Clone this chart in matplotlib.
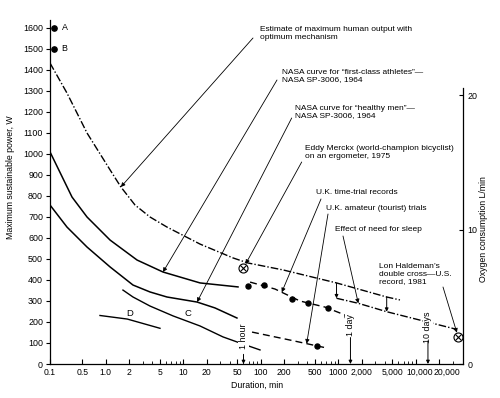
import numpy as np
import matplotlib
matplotlib.use('Agg')
import matplotlib.pyplot as plt
import matplotlib.transforms as mtransforms
from matplotlib.ticker import FixedLocator, FixedFormatter, NullFormatter

plt.rcParams['font.family'] = ['Liberation Sans', 'DejaVu Sans']

# ---------------- data (duration in minutes, power in W) ----------------
estimate_min = [0.1, 0.31, 0.574, 1.14, 1.57, 2.39, 3.73, 6.18, 16.5, 44, 68.6, 194, 952, 4227, 6270]
estimate_w = [1433, 1290, 1100, 924, 843, 757, 700, 652, 571, 505, 481, 448, 386, 319, 305]

sleep_min = [952, 1818, 4227, 6270, 33800]
sleep_w = [313, 289, 249, 233, 165]
step_min = [952, 4227]
step_top_w = [384, 319]
step_bot_w = [313, 249]

athletes_min = [0.1, 0.372, 0.574, 1.14, 2.54, 5.49, 16.5, 51]
athletes_w = [1010, 795, 700, 590, 495, 438, 386, 367]

healthy_min = [0.1, 0.31, 0.574, 1.14, 2.25, 3.73, 6.18, 15.1, 25.7, 49.4]
healthy_w = [757, 652, 557, 462, 376, 343, 319, 295, 267, 219]

c_min = [1.67, 2.25, 3.73, 7.39, 16.5, 32.6, 54, 98]
c_w = [352, 319, 276, 229, 181, 129, 100, 67]

d_min = [0.844, 1.9, 5.02]
d_w = [231, 214, 170]

trial_line_min = [73, 153, 321, 676, 1420]
trial_line_w = [390, 357, 300, 271, 224]
trial_dots_min = [68, 111, 251, 411, 745, 1300]
trial_dots_w = [373, 376, 308, 292, 269, 229]

amateur_line_min = [77.3, 239, 716]
amateur_line_w = [152, 114, 76]
amateur_dot_min = [528]
amateur_dot_w = [87]

merckx_min, merckx_w = 59.6, 456
haldeman_min, haldeman_w = 35460, 127

ab_min = [0.15, 0.15]
ab_w = [1600, 1500]
ab_labels = ['A', 'B']

time_marks_min = [60, 1440, 14400]
time_marks_labels = ['1 hour', '1 day', '10 days']

x_major = [0.1, 0.5, 1, 2, 5, 10, 20, 50, 100, 200, 500, 1000, 2000, 5000, 10000, 20000]
x_major_labels = ['0.1', '0.5', '1.0', '2', '5', '10', '20', '50', '100', '200', '500',
                  '1000', '2,000', '5,000', '10,000', '20,000']
y_ticks = list(range(0, 1601, 100))
o2_ticks = [0, 10, 20]

# ---------------- x scale: linear 0.1-0.5, log above ----------------
L0 = np.log10(0.5)
LL = -0.7187


def fwd(x):
    x = np.asarray(x, dtype=float)
    return np.where(x >= 0.5, np.log10(np.clip(x, 0.5, None)),
                    L0 - (0.5 - x) / 0.4 * (L0 - LL))


def inv(y):
    y = np.asarray(y, dtype=float)
    return np.where(y >= L0, 10 ** np.clip(y, None, 12),
                    0.5 - (L0 - y) / (L0 - LL) * 0.4)


W, H = 500, 398
fig = plt.figure(figsize=(W / 100, H / 100), dpi=100)
ax = fig.add_axes([50 / W, (H - 364) / H, (463 - 50) / W, (364 - 20) / H])
ax.set_xscale('function', functions=(fwd, inv))
ax.set_xlim(0.1, 40800)
ax.set_ylim(0, 1638)

for s in ['top', 'right']:
    ax.spines[s].set_visible(False)
for s in ['left', 'bottom']:
    ax.spines[s].set_linewidth(0.9)

ax.xaxis.set_major_locator(FixedLocator(x_major))
ax.xaxis.set_major_formatter(FixedFormatter(x_major_labels))
minors = [m * d for d in [1, 10, 100, 1000, 10000] for m in [3, 4, 6, 7, 8, 9] if m * d < 35000]
ax.xaxis.set_minor_locator(FixedLocator(minors))
ax.xaxis.set_minor_formatter(NullFormatter())
ax.set_yticks(y_ticks)
ax.tick_params(axis='x', which='major', direction='in', length=3.5, width=0.8, labelsize=6.2, pad=3)
ax.tick_params(axis='x', which='minor', direction='in', length=2.2, width=0.6)
ax.tick_params(axis='y', direction='out', length=3, width=0.8, labelsize=6.4, pad=2)

# nudge the two crowded right-hand tick labels apart, as in the original
xlabels = ax.xaxis.get_majorticklabels()
for lab, dx in zip(xlabels[-2:], [3.0, 6.0]):
    lab.set_transform(lab.get_transform() + mtransforms.ScaledTranslation(dx / 72, 0, fig.dpi_scale_trans))

ax2 = ax.twinx()
ax2.set_ylim(0, 25.58)
ax2.set_yticks(o2_ticks)
for s in ['top', 'left', 'bottom']:
    ax2.spines[s].set_visible(False)
ax2.spines['right'].set_bounds(0, 20.5)
ax2.spines['right'].set_linewidth(0.9)
ax2.tick_params(axis='y', direction='in', length=3, width=0.8, labelsize=6.4, pad=3)

K = 'black'
dashdot = (5.5, 1.5, 1, 1.5)

ax.plot(estimate_min, estimate_w, color=K, lw=1.0, dashes=dashdot)
ax.plot(sleep_min, sleep_w, color=K, lw=1.0, dashes=dashdot)
for x, t, b in zip(step_min, step_top_w, step_bot_w):
    ax.annotate('', xy=(x, b), xytext=(x, t),
                arrowprops=dict(arrowstyle='-|>', lw=0.7, color=K, shrinkA=0, shrinkB=0,
                                mutation_scale=5))

ax.plot(athletes_min, athletes_w, color=K, lw=1.1)
ax.plot(healthy_min, healthy_w, color=K, lw=1.1)
ax.plot(c_min, c_w, color=K, lw=1.0)
ax.plot(d_min, d_w, color=K, lw=1.0)

ax.plot(trial_line_min, trial_line_w, color=K, lw=1.0, dashes=(5, 3))
ax.plot(trial_dots_min, trial_dots_w, 'o', color=K, ms=3.6)
ax.plot(amateur_line_min, amateur_line_w, color=K, lw=1.0, dashes=(5, 3))
ax.plot(amateur_dot_min, amateur_dot_w, 'o', color=K, ms=3.6)

for x, w in [(merckx_min, merckx_w), (haldeman_min, haldeman_w)]:
    ax.plot([x], [w], marker='o', mfc='white', mec=K, ms=6.5, mew=0.8, ls='none', clip_on=False, zorder=5)
    ax.plot([x], [w], marker='x', color=K, ms=4.4, mew=0.8, ls='none', clip_on=False, zorder=6)

ax.plot(ab_min, ab_w, 'o', color=K, ms=3.8, clip_on=False)
for x, w, lab in zip(ab_min, ab_w, ab_labels):
    ax.annotate(lab, xy=(x, w), xytext=(5.5, 0), textcoords='offset points',
                va='center', ha='left', fontsize=6.4)

# time markers (1 hour, 1 day, 10 days)
mark_text_w = [133, 185, 176]
mark_arrow_top = [46, 126, 110]
for x, lab, tw, aw in zip(time_marks_min, time_marks_labels, mark_text_w, mark_arrow_top):
    ax.text(x, tw, lab, rotation=90, ha='center', va='center', fontsize=6.4,
            bbox=dict(fc='white', ec='none', pad=0.6), zorder=7)
    ax.annotate('', xy=(x, 0), xytext=(x, aw),
                arrowprops=dict(arrowstyle='-|>', lw=0.7, color=K, shrinkA=0, shrinkB=0,
                                mutation_scale=5), zorder=7)


def on_curve(xs, ws, x):
    return float(np.interp(np.log10(x), np.log10(xs), ws))


def fp(px, py):
    return (px, H - py)


FS = 6.0
notes = [
    ('Estimate of maximum human output with\noptimum mechanism', (260, 33.5), (253, 38),
     (1.57, on_curve(estimate_min, estimate_w, 1.57)), 0),
    ('NASA curve for \u201cfirst-class athletes\u201d\u2014\nNASA SP-3006, 1964', (281.7, 76), (277, 80),
     (5.49, on_curve(athletes_min, athletes_w, 5.49)), 0),
    ('NASA curve for \u201chealthy men\u201d\u2014\nNASA SP-3006, 1964', (295, 112), (291.7, 118),
     (15.1, on_curve(healthy_min, healthy_w, 15.1)), 0),
    ('Eddy Merckx (world-champion bicyclist)\non an ergometer, 1975', (305, 152.5), (301.7, 162),
     (merckx_min, merckx_w), 3.5),
    ('U.K. time-trial records', (316.5, 192), (321, 199),
     (187, on_curve(trial_line_min, trial_line_w, 187)), 0),
    ('U.K. amateur (tourist) trials', (326, 208), (328, 214),
     (392, on_curve(amateur_line_min, amateur_line_w, 392)), 0),
    ('Effect of need for sleep', (335, 230), (343, 236),
     (1818, on_curve(sleep_min, sleep_w, 1818)), 0),
    ('Lon Haldeman\u2019s\ndouble cross\u2014U.S.\nrecord, 1981', (379, 274), (443, 287),
     (haldeman_min, haldeman_w), 3.5),
]
for text, tpos, start, tip, shrink in notes:
    fig.text(tpos[0] / W, 1 - tpos[1] / H, text, ha='left', va='center', fontsize=FS,
             linespacing=1.1)
    ax.annotate('', xy=tip, xycoords='data', xytext=fp(*start), textcoords='figure pixels',
                arrowprops=dict(arrowstyle='-|>', lw=0.6, color=K, shrinkA=0, shrinkB=shrink,
                                mutation_scale=6), annotation_clip=False)

fig.text(188 / W, 1 - 314 / H, 'C', ha='center', va='center', fontsize=6.8)
fig.text(130 / W, 1 - 313 / H, 'D', ha='center', va='center', fontsize=6.8)

fig.text(11 / W, 1 - 177 / H, 'Maximum sustainable power, W', rotation=90, ha='center', va='center', fontsize=6.3)
fig.text(483 / W, 1 - 229 / H, 'Oxygen consumption L/min', rotation=90, ha='center', va='center', fontsize=6.3)
fig.text(257 / W, 1 - 385 / H, 'Duration, min', ha='center', va='center', fontsize=6.3)

fig.savefig('out.png', dpi=100)
